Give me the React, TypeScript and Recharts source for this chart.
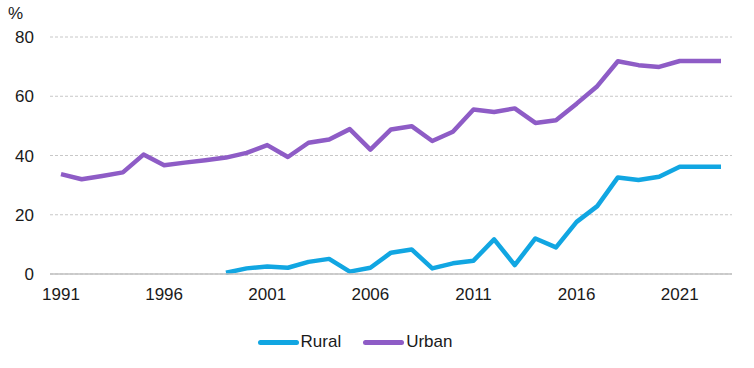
import React from "react"
import {
  CartesianGrid,
  Legend,
  Line,
  LineChart,
  XAxis,
  YAxis,
} from "recharts"

const years = [
  1991, 1992, 1993, 1994, 1995, 1996, 1997, 1998, 1999, 2000, 2001, 2002,
  2003, 2004, 2005, 2006, 2007, 2008, 2009, 2010, 2011, 2012, 2013, 2014,
  2015, 2016, 2017, 2018, 2019, 2020, 2021, 2022, 2023,
]

const rural: (number | null)[] = [
  null, null, null, null, null, null, null, null, 0.4, 1.9, 2.5, 2.1,
  4.1, 5.1, 0.8, 2.1, 7.2, 8.3, 1.9, 3.6, 4.5, 11.7, 3.0, 12.0,
  9.0, 17.6, 22.9, 32.6, 31.7, 32.8, 36.2, 36.2, 36.2,
]

const urban = [
  33.7, 32.0, 33.1, 34.3, 40.3, 36.7, 37.6, 38.4, 39.3, 40.9, 43.5, 39.5,
  44.3, 45.4, 48.9, 42.0, 48.8, 49.9, 44.9, 48.0, 55.5, 54.7, 55.9, 51.0,
  51.9, 57.5, 63.4, 71.8, 70.5, 69.9, 71.9, 71.9, 71.9,
]

const xTicks = [1991, 1996, 2001, 2006, 2011, 2016, 2021]
const yTicks = [0, 20, 40, 60, 80]

const RURAL = "#11a6e2"
const URBAN = "#8e5cc6"
const FONT = "'Liberation Sans', Arial, sans-serif"

const data = years.map((year, i) => ({ year, Rural: rural[i], Urban: urban[i] }))

function LegendContent({ payload }: any) {
  return (
    <div
      style={{
        display: "flex",
        justifyContent: "center",
        alignItems: "center",
        height: 36,
        fontFamily: FONT,
        fontSize: 17,
        color: "#1a1a1a",
      }}
    >
      {(payload || []).map((p: any) => (
        <div key={p.value} style={{ display: "flex", alignItems: "center", marginRight: 22 }}>
          <div
            style={{
              width: 41,
              height: 5,
              borderRadius: 3,
              background: p.color,
              marginRight: 2,
            }}
          />
          <span>{p.value}</span>
        </div>
      ))}
    </div>
  )
}

export default function App() {
  return (
    <div style={{ position: "absolute", left: 0, top: 0, width: 754, height: 368, background: "#fff" }}>
      <div
        style={{
          position: "absolute",
          left: 8,
          top: 4,
          fontFamily: FONT,
          fontSize: 17,
          color: "#1a1a1a",
        }}
      >
        %
      </div>
      <LineChart
        width={754}
        height={368}
        data={data}
        margin={{ top: 37, right: 22, left: 0, bottom: 8 }}
      >
        <CartesianGrid vertical={false} stroke="#c8c8c8" strokeDasharray="3 2" />
        <XAxis
          dataKey="year"
          type="number"
          domain={[1991, 2023]}
          ticks={xTicks}
          padding={{ left: 11, right: 11 }}
          height={50}
          tickLine={false}
          tickSize={0}
          tickMargin={14}
          axisLine={{ stroke: "#c0c0c0", strokeWidth: 1.5 }}
          tick={{ fill: "#1a1a1a", fontSize: 17, fontFamily: FONT }}
        />
        <YAxis
          width={50}
          domain={[0, 80]}
          ticks={yTicks}
          axisLine={false}
          tickLine={false}
          tickSize={0}
          tickMargin={16}
          tick={{ fill: "#1a1a1a", fontSize: 17, fontFamily: FONT }}
        />
        <Legend verticalAlign="bottom" height={36} content={<LegendContent />} />
        <Line
          dataKey="Rural"
          stroke={RURAL}
          strokeWidth={4.5}
          dot={false}
          isAnimationActive={false}
          strokeLinejoin="round"
        />
        <Line
          dataKey="Urban"
          stroke={URBAN}
          strokeWidth={4.5}
          dot={false}
          isAnimationActive={false}
          strokeLinejoin="round"
        />
      </LineChart>
    </div>
  )
}
